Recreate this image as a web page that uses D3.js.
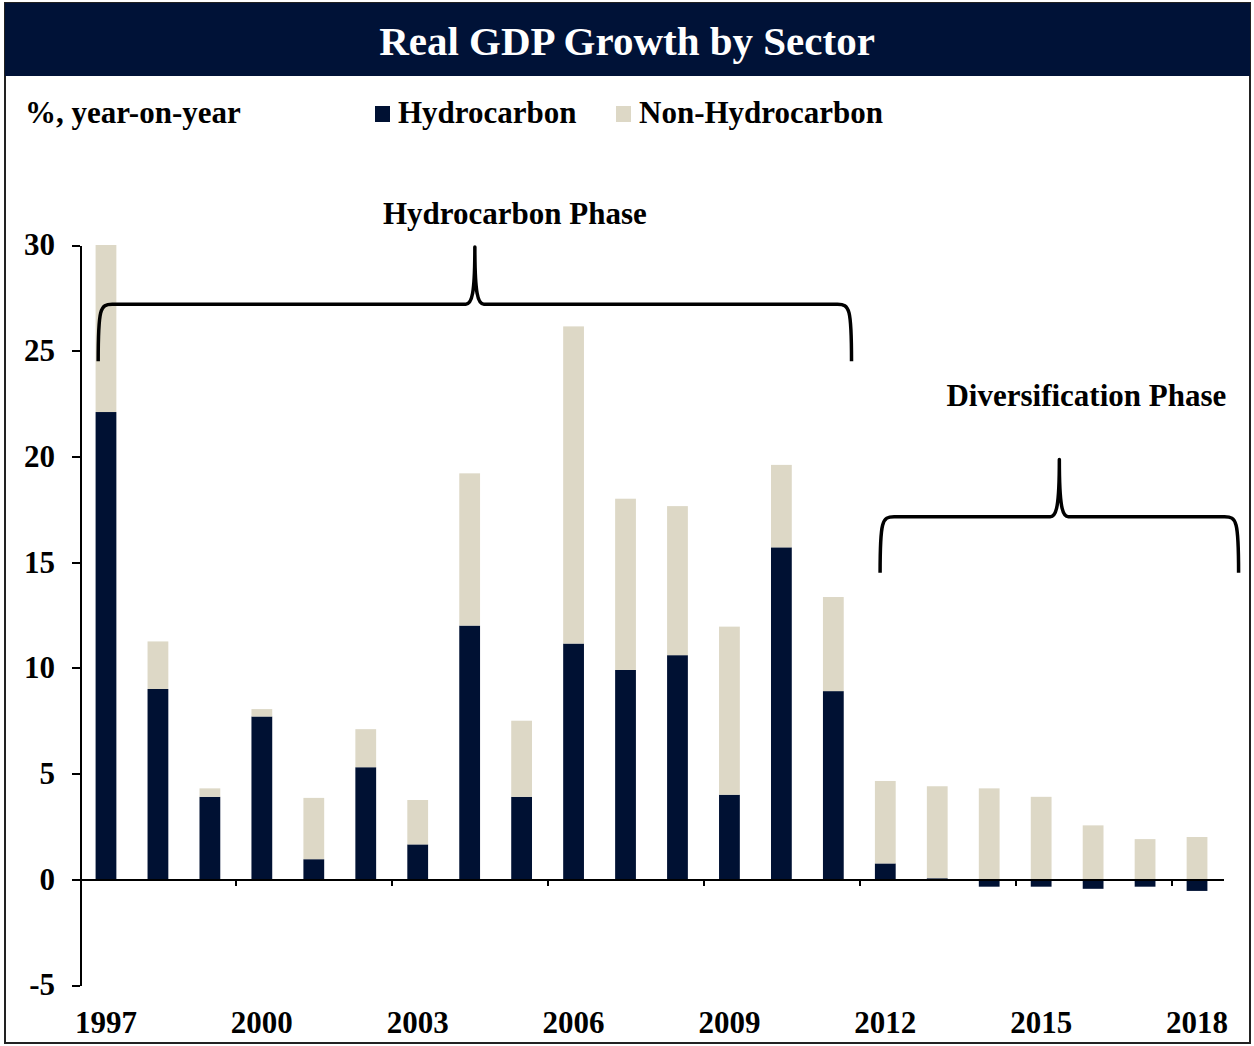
<!DOCTYPE html>
<meta charset="utf-8">
<style>
body { margin: 0; background: #fff; }
svg text { font-family: "Liberation Serif", "Times New Roman", serif; font-weight: bold; }
.axis path, .axis line { stroke: #000; shape-rendering: crispEdges; }
</style>
<body>
<script src="https://cdnjs.cloudflare.com/ajax/libs/d3/7.8.5/d3.min.js"></script>
<script>

// data (% y/y)
var years = ["1997","1998","1999","2000","2001","2002","2003","2004","2005","2006","2007",
             "2008","2009","2010","2011","2012","2013","2014","2015","2016","2017","2018"];
var hydro    = [22.1, 9.0, 3.9, 7.7, 0.95, 5.3, 1.65, 12.0, 3.9, 11.15, 9.9,
                10.6, 4.0, 15.7, 8.9, 0.75, 0.05, -0.35, -0.35, -0.45, -0.35, -0.55];
var nonHydro = [7.9, 2.25, 0.4, 0.35, 2.9, 1.8, 2.1, 7.2, 3.6, 15.0, 8.1,
                7.05, 7.95, 3.9, 4.45, 3.9, 4.35, 4.3, 3.9, 2.55, 1.9, 2.0];
var seriesNames = ["Hydrocarbon", "Non-Hydrocarbon"];
var colors = ["#001133", "#ddd8c6"];
var yTicks = [-5, 0, 5, 10, 15, 20, 25, 30];
var labelYears = ["1997","2000","2003","2006","2009","2012","2015","2018"];

// phase annotations (x in category units, y in chart values)
var phaseNames = ["Hydrocarbon Phase", "Diversification Phase"];
var braceFrom  = [0.35, 15.4];
var braceTo    = [14.85, 22.3];
var braceMid   = [7.6, 18.85];
var braceEnd   = [24.5, 14.5];
var braceBar   = [27.2, 17.15];
var bracePeak  = [29.9, 19.85];
var phaseTextX = [8.37, 19.37];
var phaseTextY = [31.0, 22.4];

var W = 1254, H = 1046;
var left = 80, right = 1223;

var svg = d3.select("body").append("svg")
    .attr("width", W)
    .attr("height", H);

// frame + title bar
svg.append("rect")
    .attr("x", 5).attr("y", 3).attr("width", W - 9).attr("height", H - 6)
    .attr("fill", "#fff").attr("stroke", "#222").attr("stroke-width", 2);
svg.append("rect")
    .attr("x", 5).attr("y", 3).attr("width", W - 9).attr("height", 73)
    .attr("fill", "#001237");
svg.append("text")
    .attr("x", W / 2).attr("y", 55)
    .attr("text-anchor", "middle")
    .attr("fill", "#fff")
    .style("font-size", "41px")
    .text("Real GDP Growth by Sector");

// subtitle + legend
svg.append("text")
    .attr("x", 25).attr("y", 123)
    .style("font-size", "31px")
    .text("%, year-on-year");

var legendX = [375, 616];
seriesNames.forEach(function(name, i) {
  svg.append("rect")
      .attr("x", legendX[i]).attr("y", 106).attr("width", 15).attr("height", 16)
      .attr("fill", colors[i]);
  svg.append("text")
      .attr("x", legendX[i] + 23).attr("y", 123)
      .style("font-size", "31px")
      .text(name);
});

// scales
var x = d3.scaleBand()
    .domain(years)
    .range([left, right])
    .paddingInner(0.6)
    .paddingOuter(0.3);

var xu = d3.scaleLinear()
    .domain([0, years.length])
    .range([left, right]);

var y = d3.scaleLinear()
    .domain([-5, 30])
    .range([985, 245]);

// stacked data
var rows = years.map(function(yr, i) {
  return {year: yr, Hydrocarbon: hydro[i], "Non-Hydrocarbon": nonHydro[i]};
});
var stack = d3.stack()
    .keys(seriesNames)
    .offset(d3.stackOffsetDiverging);
var layers = stack(rows);

svg.selectAll(".layer")
    .data(layers)
  .enter().append("g")
    .attr("class", "layer")
    .attr("fill", function(d, i) { return colors[i]; })
  .selectAll("rect")
    .data(function(d) { return d; })
  .enter().append("rect")
    .attr("x", function(d) { return x(d.data.year); })
    .attr("width", x.bandwidth())
    .attr("y", function(d) { return y(Math.max(d[0], d[1])); })
    .attr("height", function(d) { return Math.abs(y(d[0]) - y(d[1])); });

// y axis
svg.append("g")
    .attr("class", "axis")
    .attr("transform", "translate(" + left + ",0)")
    .call(d3.axisLeft(y).tickValues(yTicks).tickSize(8).tickSizeOuter(0).tickPadding(17)
      .tickFormat(function(d) { return String(d); }))
    .call(function(g) {
      g.selectAll("text").style("font-size", "31px").attr("fill", "#000");
      g.select("path").attr("stroke-width", 2);
      g.selectAll("line").attr("stroke-width", 2);
    });

// x axis line with ticks on group boundaries
svg.append("g")
    .attr("class", "axis")
    .attr("transform", "translate(0," + y(0) + ")")
    .call(d3.axisBottom(xu).tickValues([3, 6, 9, 12, 15, 18, 21]).tickSize(7).tickSizeOuter(0).tickFormat(""))
    .call(function(g) {
      g.select("path").attr("stroke-width", 2.5);
      g.selectAll("line").attr("stroke-width", 2);
    });

// year labels
svg.append("g")
    .selectAll("text")
    .data(labelYears)
  .enter().append("text")
    .attr("x", function(d) { return x(d) + x.bandwidth() / 2; })
    .attr("y", 1033)
    .attr("text-anchor", "middle")
    .style("font-size", "31px")
    .text(function(d) { return d; });

// braces
function bracePath(i) {
  var x0 = xu(braceFrom[i]), x1 = xu(braceTo[i]), xm = xu(braceMid[i]);
  var ye = y(braceEnd[i]), yb = y(braceBar[i]), yp = y(bracePeak[i]);
  return "M" + x0 + "," + ye +
    "C" + x0 + "," + (yb + 4) + " " + (x0 + 2) + "," + yb + " " + (x0 + 14) + "," + yb +
    "L" + (xm - 9) + "," + yb +
    "C" + (xm - 3) + "," + yb + " " + xm + "," + (yb - 10) + " " + xm + "," + yp +
    "C" + xm + "," + (yb - 10) + " " + (xm + 3) + "," + yb + " " + (xm + 9) + "," + yb +
    "L" + (x1 - 14) + "," + yb +
    "C" + (x1 - 2) + "," + yb + " " + x1 + "," + (yb + 4) + " " + x1 + "," + ye;
}

phaseNames.forEach(function(name, i) {
  svg.append("path")
      .attr("d", bracePath(i))
      .attr("fill", "none")
      .attr("stroke", "#000")
      .attr("stroke-width", 3.5)
      .attr("stroke-linejoin", "round");
  svg.append("text")
      .attr("x", xu(phaseTextX[i]))
      .attr("y", y(phaseTextY[i]))
      .attr("text-anchor", "middle")
      .style("font-size", "31px")
      .text(name);
});

</script>
